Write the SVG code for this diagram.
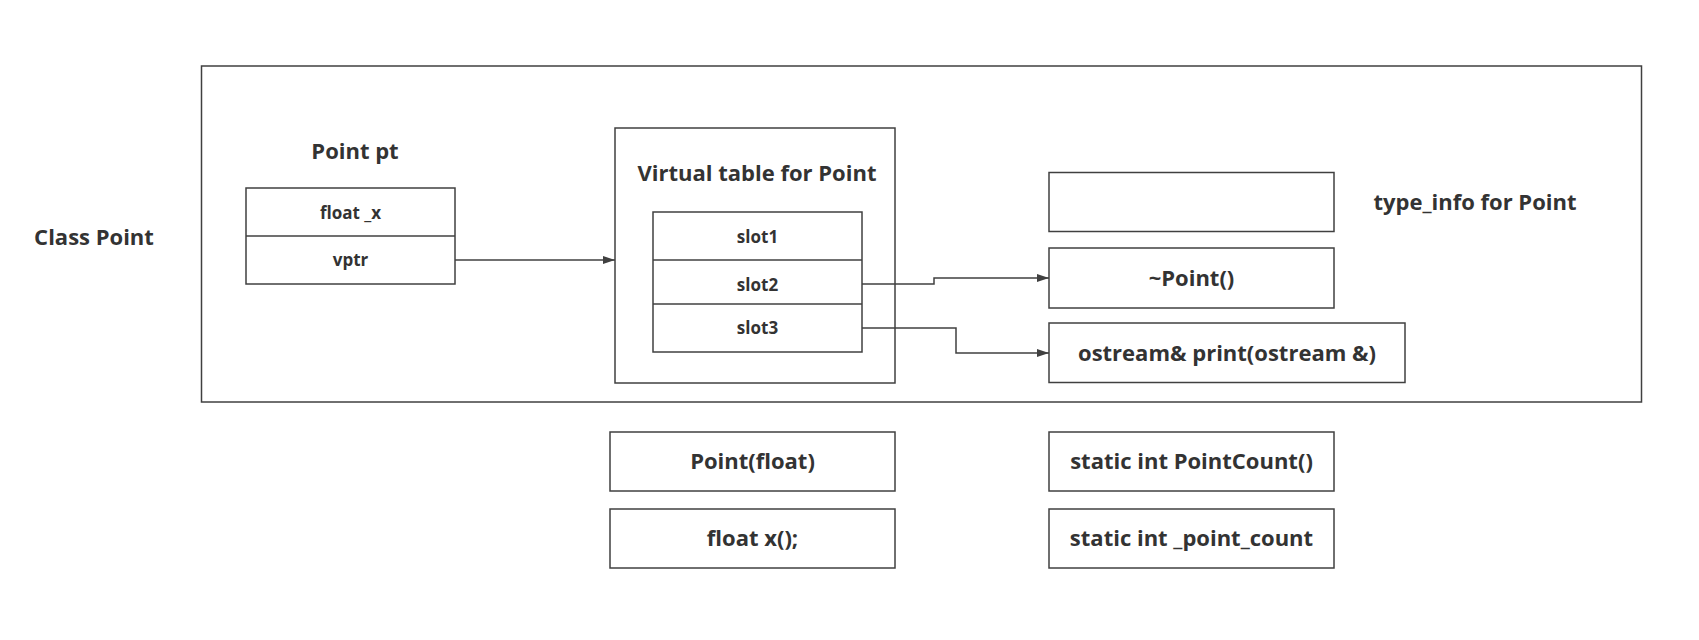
<svg xmlns="http://www.w3.org/2000/svg" width="1699" height="640" viewBox="0 0 1699 640">
<style>
  .box { fill: #ffffff; stroke: #404040; stroke-width: 1.5; }
  .ln { stroke: #404040; stroke-width: 1.5; fill: none; }
  .t { font-family: "Open Sans", "Noto Sans", sans-serif; font-weight: bold; fill: #333333; text-anchor: middle; }
  .lg { font-size: 22px; }
  .sm { font-size: 17px; }
</style>
<defs>
  <marker id="arr" viewBox="0 0 12 8" refX="12" refY="4" markerWidth="12" markerHeight="8" markerUnits="userSpaceOnUse" orient="auto">
    <path d="M0,0 L12,4 L0,8 z" fill="#404040"/>
  </marker>
</defs>
<rect width="1699" height="640" fill="#ffffff"/>
<g id="class-point">
  <rect class="box" x="201.5" y="66" width="1440" height="336"/>
  <text class="t lg" x="94" y="245">Class Point</text>
</g>
<g id="point-pt">
  <text class="t lg" x="355" y="159">Point pt</text>
  <rect class="box" x="246" y="188" width="209" height="96"/>
  <line class="ln" x1="246" y1="236" x2="455" y2="236"/>
  <text class="t sm" x="350.5" y="219">float _x</text>
  <text class="t sm" x="350.5" y="266">vptr</text>
</g>
<g id="vtable">
  <rect class="box" x="615" y="128" width="280" height="255"/>
  <text class="t lg" x="757" y="181">Virtual table for Point</text>
  <rect class="box" x="653" y="212" width="209" height="140"/>
  <line class="ln" x1="653" y1="260" x2="862" y2="260"/>
  <line class="ln" x1="653" y1="304" x2="862" y2="304"/>
  <text class="t sm" x="757.5" y="243">slot1</text>
  <text class="t sm" x="757.5" y="291">slot2</text>
  <text class="t sm" x="757.5" y="334">slot3</text>
</g>
<g id="type-info">
  <rect class="box" x="1049" y="172.5" width="285" height="59"/>
  <text class="t lg" x="1475" y="210">type_info for Point</text>
</g>
<g id="dtor">
  <rect class="box" x="1049" y="248" width="285" height="60"/>
  <text class="t lg" x="1191.5" y="286">~Point()</text>
</g>
<g id="print">
  <rect class="box" x="1049" y="323" width="356" height="59.5"/>
  <text class="t lg" x="1227" y="361">ostream&amp; print(ostream &amp;)</text>
</g>
<g id="ctor">
  <rect class="box" x="610" y="432" width="285" height="59"/>
  <text class="t lg" x="752.5" y="469">Point(float)</text>
</g>
<g id="getx">
  <rect class="box" x="610" y="509" width="285" height="59"/>
  <text class="t lg" x="752.5" y="546">float x();</text>
</g>
<g id="pointcount">
  <rect class="box" x="1049" y="432" width="285" height="59"/>
  <text class="t lg" x="1191.5" y="469">static int PointCount()</text>
</g>
<g id="point-count-var">
  <rect class="box" x="1049" y="509" width="285" height="59"/>
  <text class="t lg" x="1191.5" y="546">static int _point_count</text>
</g>
<g id="connectors">
  <path class="ln" d="M455,260 H615" marker-end="url(#arr)"/>
  <path class="ln" d="M862,284 H934 V278 H1049" marker-end="url(#arr)"/>
  <path class="ln" d="M862,328 H956 V353 H1049" marker-end="url(#arr)"/>
</g>
</svg>
